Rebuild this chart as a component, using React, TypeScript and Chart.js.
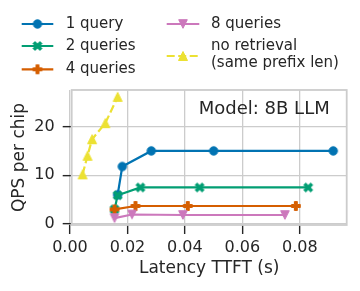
import React, { useEffect, useRef } from 'react';
import { Chart, registerables } from 'chart.js';

Chart.register(...registerables);

const seriesLabels = ['1 query', '2 queries', '4 queries', '8 queries', 'no retrieval', '(same prefix len)'];
const seriesColors = ['#0173b2', '#029e73', '#d55e00', '#cc78bc', '#ece133'];
const seriesMarkers = ['o', 'X', 'P', 'v', '^'];

const oneQueryX = [0.0166, 0.0182, 0.0283, 0.0500, 0.0916];
const oneQueryY = [6.0, 11.8, 15.0, 15.0, 15.0];
const twoQueriesX = [0.0155, 0.0166, 0.0245, 0.0451, 0.0829];
const twoQueriesY = [3.0, 5.9, 7.5, 7.5, 7.5];
const fourQueriesX = [0.0155, 0.0228, 0.0410, 0.0786];
const fourQueriesY = [3.0, 3.7, 3.7, 3.7];
const eightQueriesX = [0.0155, 0.0216, 0.0393, 0.0748];
const eightQueriesY = [1.2, 1.95, 1.85, 1.85];
const noRetrievalX = [0.0044, 0.0061, 0.0077, 0.0123, 0.0166];
const noRetrievalY = [10.2, 14.0, 17.4, 20.7, 26.1];

const xTicks = [0, 0.02, 0.04, 0.06, 0.08];
const yTicks = [0, 10, 20];
const xLabel = 'Latency TTFT (s)';
const yLabel = 'QPS per chip';
const annotation = 'Model: 8B LLM';

const TEXT = '#262626';
const GRID = '#cccccc';
const FONT = '"DejaVu Sans", sans-serif';

function makeMarker(kind: string, color: string): HTMLCanvasElement {
  const S = 18;
  const c = document.createElement('canvas');
  c.width = S;
  c.height = S;
  const g = c.getContext('2d')!;
  g.translate(S / 2, S / 2);
  g.fillStyle = color;
  g.strokeStyle = color;
  g.lineWidth = 1;
  g.lineJoin = 'miter';
  g.beginPath();
  if (kind === 'o') {
    g.arc(0, 0, 4.2, 0, Math.PI * 2);
  } else if (kind === 'P' || kind === 'X') {
    const a = kind === 'X' ? 4.9 : 4.4;
    const t = 1.5;
    const pts = [
      [-t, -a], [t, -a], [t, -t], [a, -t], [a, t], [t, t],
      [t, a], [-t, a], [-t, t], [-a, t], [-a, -t], [-t, -t],
    ];
    const ang = kind === 'X' ? Math.PI / 4 : 0;
    pts.forEach(([px, py], i) => {
      const x = px * Math.cos(ang) - py * Math.sin(ang);
      const y = px * Math.sin(ang) + py * Math.cos(ang);
      if (i === 0) g.moveTo(x, y);
      else g.lineTo(x, y);
    });
  } else if (kind === 'v') {
    const h = 4.3;
    g.moveTo(-h, -h);
    g.lineTo(h, -h);
    g.lineTo(0, h);
  } else if (kind === '^') {
    const h = 4.5;
    g.moveTo(-h, h);
    g.lineTo(h, h);
    g.lineTo(0, -h);
  }
  g.closePath();
  g.fill();
  g.stroke();
  return c;
}

function pts(xs: number[], ys: number[]) {
  return xs.map((x, i) => ({ x, y: ys[i] }));
}

export default function App() {
  const ref = useRef<HTMLCanvasElement | null>(null);

  useEffect(() => {
    if (!ref.current) return;
    const markers = seriesMarkers.map((m, i) => makeMarker(m, seriesColors[i]));
    const allData = [
      pts(oneQueryX, oneQueryY),
      pts(twoQueriesX, twoQueriesY),
      pts(fourQueriesX, fourQueriesY),
      pts(eightQueriesX, eightQueriesY),
      pts(noRetrievalX, noRetrievalY),
    ];
    const LW = 2.2;
    const DASH = [8, 3.5];

    const framePlugin = {
      id: 'frame',
      beforeDatasetsDraw(chart: any) {
        const { ctx, chartArea: a } = chart;
        ctx.save();
        ctx.strokeStyle = GRID;
        ctx.lineWidth = 1.8;
        ctx.strokeRect(a.left, a.top, a.right - a.left, a.bottom - a.top);
        ctx.restore();
      },
      afterDraw(chart: any) {
        const { ctx, chartArea: a } = chart;
        ctx.save();
        ctx.fillStyle = TEXT;
        ctx.font = `18px ${FONT}`;
        ctx.textAlign = 'right';
        ctx.textBaseline = 'middle';
        ctx.fillText(annotation, a.right - 17, a.top + 19.5);

        // legend
        const items = [
          { i: 0, x1: 21.7, x2: 53.3, y: 24, tx: 65.7, lines: [seriesLabels[0]], ty: 24 },
          { i: 1, x1: 21.7, x2: 53.3, y: 46, tx: 65.7, lines: [seriesLabels[1]], ty: 46 },
          { i: 2, x1: 21.7, x2: 53.3, y: 69.3, tx: 65.7, lines: [seriesLabels[2]], ty: 69.3 },
          { i: 3, x1: 166.7, x2: 199.3, y: 24, tx: 211, lines: [seriesLabels[3]], ty: 24 },
          { i: 4, x1: 166.7, x2: 199.3, y: 56, tx: 211, lines: [seriesLabels[4], seriesLabels[5]], ty: 46 },
        ];
        ctx.font = `15px ${FONT}`;
        ctx.textAlign = 'left';
        items.forEach((it) => {
          ctx.strokeStyle = seriesColors[it.i];
          ctx.lineWidth = LW;
          ctx.setLineDash(it.i === 4 ? DASH : []);
          ctx.beginPath();
          ctx.moveTo(it.x1, it.y);
          ctx.lineTo(it.x2, it.y);
          ctx.stroke();
          ctx.setLineDash([]);
          const m = markers[it.i];
          ctx.drawImage(m, (it.x1 + it.x2) / 2 - m.width / 2, it.y - m.height / 2);
          it.lines.forEach((t, k) => {
            ctx.fillText(t, it.tx, it.ty + k * 16.7);
          });
        });
        ctx.restore();
      },
    };

    const chart = new Chart(ref.current, {
      type: 'line',
      data: {
        datasets: allData.map((d, i) => ({
          label: seriesLabels[i],
          data: d,
          borderColor: seriesColors[i],
          backgroundColor: seriesColors[i],
          borderWidth: LW,
          borderDash: i === 4 ? DASH : [],
          pointStyle: markers[i] as any,
          pointRadius: 5,
          pointHoverRadius: 5,
          tension: 0,
          fill: false,
          order: 5 - i,
        })),
      },
      options: {
        animation: false,
        responsive: false,
        devicePixelRatio: 1,
        layout: { padding: { top: 90, right: 13.3, left: 0, bottom: 0 } },
        plugins: {
          legend: { display: false },
          tooltip: { enabled: false },
        },
        scales: {
          x: {
            type: 'linear',
            min: 0.0006,
            max: 0.0963,
            afterBuildTicks: (s: any) => {
              s.ticks = xTicks.map((v) => ({ value: v }));
            },
            afterFit: (s: any) => {
              s.height = 66;
            },
            ticks: {
              callback: (v: any) => Number(v).toFixed(2),
              font: { size: 16, family: FONT },
              color: TEXT,
              padding: 4,
              maxRotation: 0,
            },
            grid: {
              color: GRID,
              lineWidth: 1.3,
              tickColor: TEXT,
              tickLength: 9,
              tickWidth: 1.4,
            },
            border: { display: false },
            title: {
              display: true,
              text: xLabel,
              font: { size: 17, family: FONT },
              color: TEXT,
              padding: { top: 0, bottom: 12 },
            },
          },
          y: {
            type: 'linear',
            min: -0.2,
            max: 27.5,
            afterBuildTicks: (s: any) => {
              s.ticks = yTicks.map((v) => ({ value: v }));
            },
            afterFit: (s: any) => {
              s.width = 71.7;
            },
            ticks: {
              callback: (v: any) => String(v),
              font: { size: 16, family: FONT },
              color: TEXT,
              padding: 8,
            },
            grid: {
              color: GRID,
              lineWidth: 1.3,
              tickColor: TEXT,
              tickLength: 9,
              tickWidth: 1.4,
            },
            border: { display: false },
            title: {
              display: true,
              text: yLabel,
              font: { size: 17, family: FONT },
              color: TEXT,
              padding: { top: 9, bottom: 0 },
            },
          },
        },
      },
      plugins: [framePlugin],
    });
    return () => chart.destroy();
  }, []);

  return (
    <div style={{ position: 'fixed', left: 0, top: 0, width: 360, height: 291, background: '#fff' }}>
      <canvas ref={ref} width={360} height={291} style={{ width: 360, height: 291, display: 'block' }} />
    </div>
  );
}
